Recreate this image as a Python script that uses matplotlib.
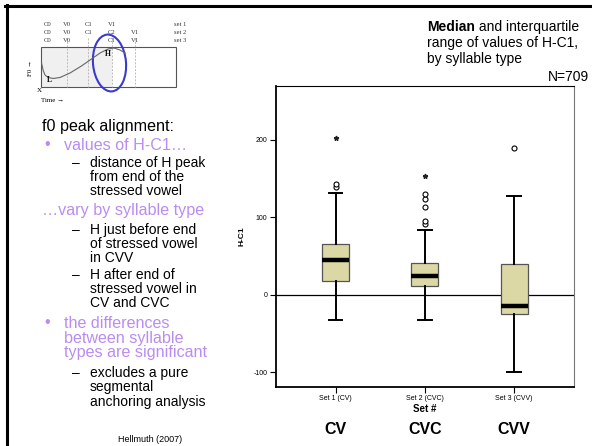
import numpy as np
import matplotlib.pyplot as plt
from matplotlib.patches import Ellipse, Rectangle

# box statistics for H-C1 by syllable type
sets = ["Set 1 (CV)", "Set 2 (CVC)", "Set 3 (CVV)"]
types = ["CV", "CVC", "CVV"]
medians = [45, 24, -14]
q1 = [18, 11, -25]
q3 = [65, 41, 40]
whisk_lo = [-33, -33, -100]
whisk_hi = [132, 84, 127]
outliers = [[139, 143], [91, 95, 114, 124, 130], [189]]
extremes = [[202], [154], []]

purple = "#B98CF2"
khaki = "#DCD8A6"

plt.rcParams['font.family'] = ['Liberation Sans', 'DejaVu Sans']

fig = plt.figure(figsize=(5.92, 4.46), dpi=100)
W, H = 592, 446


def px_rect(x0, y0, x1, y1):
    return [x0 / W, 1 - y1 / H, (x1 - x0) / W, (y1 - y0) / H]


# ---------------- boxplot ----------------
ax = fig.add_axes(px_rect(275.7, 85.7, 574, 387))
stats = []
for i in range(3):
    stats.append(dict(med=medians[i], q1=q1[i], q3=q3[i],
                      whislo=whisk_lo[i], whishi=whisk_hi[i], fliers=[]))
pos = [1, 2, 3]
ax.bxp(stats, positions=pos, widths=0.30, patch_artist=True, showfliers=False,
       boxprops=dict(facecolor=khaki, edgecolor="#555555", linewidth=0.9),
       medianprops=dict(color="black", linewidth=3.2),
       whiskerprops=dict(color="black", linewidth=1.4),
       capprops=dict(color="black", linewidth=1.4), capwidths=0.15)
for i in range(3):
    ax.plot([pos[i]] * len(outliers[i]), outliers[i], 'o', ms=3.6,
            mfc='white', mec='black', mew=0.8, zorder=5)
    ax.plot([pos[i]] * len(extremes[i]), extremes[i], '*', ms=3.5,
            color='#222222', zorder=5)
ax.axhline(0, color='black', lw=0.9, zorder=0)
ax.set_xlim(0.33, 3.67)
ax.set_ylim(-119, 270)
ax.set_yticks([-100, 0, 100, 200])
ax.set_yticklabels(["-100", "0", "100", "200"], fontsize=5)
ax.set_xticks(pos)
ax.set_xticklabels(sets, fontsize=5)
ax.tick_params(length=4, width=0.8, pad=2)
ax.set_xlabel("Set #", fontsize=7, fontweight='bold', labelpad=1)
ax.set_ylabel("H-C1", fontsize=6, fontweight='bold', labelpad=6)
for s in ['left', 'bottom']:
    ax.spines[s].set_linewidth(1.3)
ax.spines['top'].set_linewidth(0.8)
ax.spines['right'].set_color('#777777')
ax.spines['right'].set_linewidth(0.8)

# ---------------- slide overlay ----------------
ov = fig.add_axes([0, 0, 1, 1], zorder=-1)
ov.set_xlim(0, W)
ov.set_ylim(H, 0)
ov.axis('off')
ov.plot([5, W], [5.5, 5.5], color='black', lw=2.2)
ov.plot([6.5, 6.5], [5, H], color='black', lw=2.2)

for i in range(3):
    ov.text(335.7 + i * 89.2, 430, types[i], fontsize=11.5, fontweight='bold',
            ha='center', va='center')

t = ov.text(427, 27, "Median", fontsize=10, fontweight='bold', va='center')
ov.annotate(" and interquartile", xy=(1, 0.5), xycoords=t, fontsize=10,
            va='center', ha='left')
ov.text(427, 43, "range of values of H-C1,", fontsize=10, va='center')
ov.text(427, 59, "by syllable type", fontsize=10, va='center')
ov.text(589, 77, "N=709", fontsize=10, ha='right', va='center')

# left text column
fs1, fs2 = 11.6, 10
ov.text(42, 127, "f0 peak alignment:", fontsize=fs1, va='center')
ov.text(44, 145, "•", fontsize=fs1, color=purple, va='center')
ov.text(64, 145, "values of H-C1…", fontsize=fs1, color=purple, va='center')
ov.text(72, 163, "–", fontsize=fs2, va='center')
for k, line in enumerate(["distance of H peak", "from end of the", "stressed vowel"]):
    ov.text(90, 163 + 14.2 * k, line, fontsize=fs2, va='center')
ov.text(42, 211, "…vary by syllable type", fontsize=fs1, color=purple, va='center')
ov.text(72, 230, "–", fontsize=fs2, va='center')
for k, line in enumerate(["H just before end", "of stressed vowel", "in CVV"]):
    ov.text(90, 230 + 14.2 * k, line, fontsize=fs2, va='center')
ov.text(72, 275, "–", fontsize=fs2, va='center')
for k, line in enumerate(["H after end of", "stressed vowel in", "CV and CVC"]):
    ov.text(90, 275 + 14.2 * k, line, fontsize=fs2, va='center')
ov.text(44, 323, "•", fontsize=fs1, color=purple, va='center')
for k, line in enumerate(["the differences", "between syllable", "types are significant"]):
    ov.text(64, 323 + 15 * k, line, fontsize=fs1, color=purple, va='center')
ov.text(72, 373, "–", fontsize=fs2, va='center')
for k, line in enumerate(["excludes a pure", "segmental", "anchoring analysis"]):
    ov.text(90, 373 + 14.5 * k, line, fontsize=fs2, va='center')
ov.text(150, 440, "Hellmuth (2007)", fontsize=6.5, ha='center', va='center')

# ---------------- inset f0 schematic ----------------
serif = ['Liberation Serif', 'DejaVu Serif']
cols = [47.7, 66.7, 88.3, 111.7, 135]
rows = [["C0", "V0", "C1", "V1", ""],
        ["C0", "V0", "C1", "C2", "V1"],
        ["C0", "V0", "", "C1", "V1"]]
for r, labels in enumerate(rows):
    y = 25 + 8 * r
    for c, lab in enumerate(labels):
        if lab:
            ov.text(cols[c], y, lab, fontsize=4.8, family=serif,
                    ha='center', va='center', color='#333333')
    ov.text(180, y, "set %d" % (r + 1), fontsize=4.8, family=serif,
            ha='center', va='center', color='#333333')
ov.add_patch(Rectangle((41, 47.3), 70.7, 40, facecolor='#F0F0F0',
                       edgecolor='none'))
ov.add_patch(Rectangle((41, 47.3), 135, 40, facecolor='none',
                       edgecolor='#555555', lw=0.8))
for x in cols[1:]:
    ov.plot([x, x], [38, 87.3], color='#BBBBBB', lw=0.7, ls=(0, (2, 1.5)))
cx = np.array([41.5, 43, 45, 48, 53, 60, 70, 80, 90, 100, 108, 114, 120, 125])
cy = np.array([63, 70, 75, 77.5, 78.5, 77.5, 73, 67, 60, 53, 49, 48, 50, 53])
xs = np.linspace(41.5, 125, 150)
ov.plot(xs, np.interp(xs, cx, cy), color='#666666', lw=0.8)
ov.text(47, 80.5, "L", fontsize=5.5, family=serif, fontweight='bold',
        va='center')
ov.text(108, 54, "H", fontsize=5.5, family=serif, fontweight='bold',
        ha='center', va='center')
ov.text(30, 68, "F0 →", fontsize=5, family=serif, rotation=90,
        ha='center', va='center')
ov.text(39, 91, "X", fontsize=5, family=serif, ha='center', va='center')
ov.text(41, 100, "Time →", fontsize=5, family=serif, va='center')
ov.add_patch(Ellipse((109.5, 63), 33, 57, angle=-5, facecolor='none',
                     edgecolor='#3A3ACC', lw=1.5))

fig.savefig("out.png", dpi=100)
